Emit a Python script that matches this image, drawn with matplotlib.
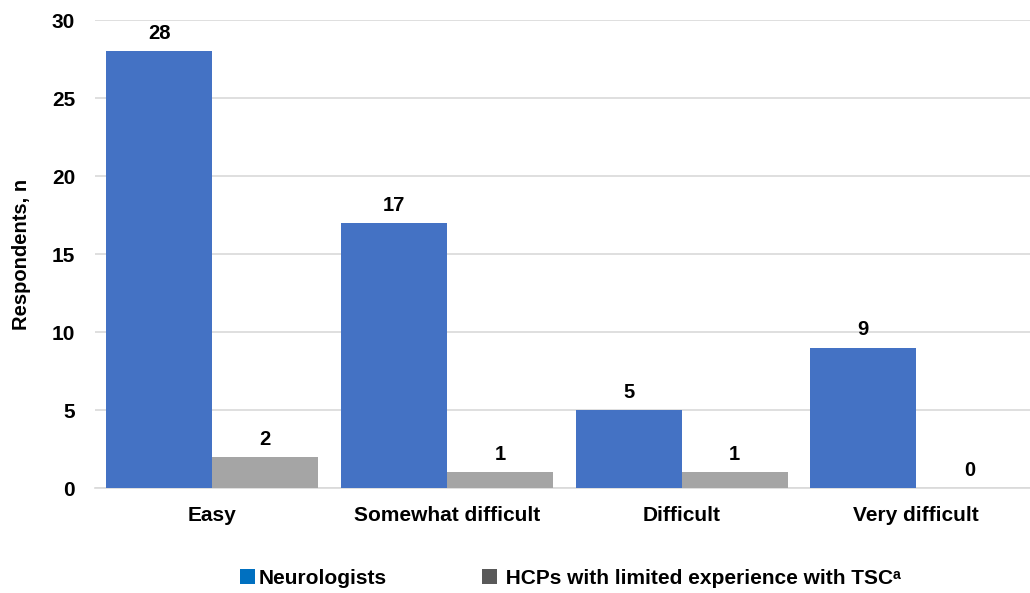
import matplotlib
matplotlib.use("Agg")
import matplotlib.pyplot as plt
from matplotlib.patches import Patch
import numpy as np

plt.rcParams['font.family'] = ['Liberation Sans', 'DejaVu Sans']
plt.rcParams['font.weight'] = 'bold'

categories = ["Easy", "Somewhat difficult", "Difficult", "Very difficult"]
neurologists = [28, 17, 5, 9]
hcps = [2, 1, 1, 0]
series_names = ["Neurologists", " HCPs with limited experience with TSC\u1d43"]
yticks = [0, 5, 10, 15, 20, 25, 30]

fig = plt.figure(figsize=(10.3, 5.93), dpi=100)
ax = fig.add_axes([0.0919, 0.177, 0.9117, 0.789])

x = np.arange(len(categories))
w = 0.4517
b1 = ax.bar(x - w/2, neurologists, w, color="#4472C4", zorder=3)
b2 = ax.bar(x + w/2, hcps, w, color="#A5A5A5", zorder=3)

for bars, vals in ((b1, neurologists), (b2, hcps)):
    for r, v in zip(bars, vals):
        ax.annotate(str(v), (r.get_x() + r.get_width()/2, r.get_height()),
                    xytext=(0, 6), textcoords="offset points",
                    ha="center", va="bottom", fontsize=14.5, fontweight="bold")

ax.set_xlim(-0.5, len(categories) - 0.5)
ax.set_ylim(0, 30)
ax.set_yticks(yticks)
ax.set_xticks(x)
ax.set_xticklabels(categories)
ax.tick_params(axis='both', length=0, labelsize=15)
ax.tick_params(axis='x', pad=13)
ax.tick_params(axis='y', pad=14)
ax.grid(axis='y', color="#D9D9D9", linewidth=1.2, zorder=0)
for s in ("top", "right", "left"):
    ax.spines[s].set_visible(False)
ax.spines["bottom"].set_color("#D9D9D9")
ax.spines["bottom"].set_linewidth(1.2)
ax.set_ylabel("Respondents, n", fontsize=14.5, fontweight="bold", labelpad=15)

handles = [Patch(facecolor="#0070C0", edgecolor="none"),
           Patch(facecolor="#595959", edgecolor="none")]
fig.legend(handles, series_names, loc="center", bbox_to_anchor=(0.554, 0.025),
           ncol=2, frameon=False, handlelength=0.72, handleheight=0.72,
           handletextpad=0.15, columnspacing=4.6,
           prop={'weight': 'bold', 'size': 15})

fig.savefig("out.png", dpi=100)
